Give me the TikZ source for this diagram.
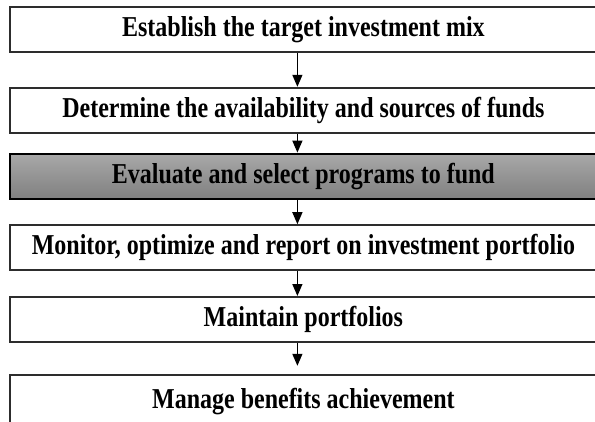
\documentclass[tikz,border=0pt]{standalone}
\usepackage{fontspec}
\setmainfont{Liberation Serif}
\usetikzlibrary{arrows.meta, positioning}
\definecolor{edgegray}{RGB}{45,45,45}
\definecolor{shadetop}{RGB}{168,168,168}
\definecolor{shadebot}{RGB}{128,128,128}
% taller step labels
\newcommand{\steptext}[1]{\scalebox{1}[1.2]{#1}}

\begin{document}
\begin{tikzpicture}[
    x=1pt, y=-1pt,
    box/.style={rectangle, draw=edgegray, line width=1.8pt, fill=white, minimum width=587pt, minimum height=45pt, inner sep=0pt, font=\fontsize{24}{28}\selectfont\bfseries},
    arrow/.style={-{Triangle[width=10pt,length=12pt]}, line width=1.3pt}
]
\fill[white] (0,0) rectangle (595,421);
\clip (0,0) rectangle (595,421);

\node[box, anchor=north west] (est) at (9,6) {\steptext{Establish the target investment mix}};
\node[box, below=34pt of est] (det) {\steptext{Determine the availability and sources of funds}};
\node[box, below=19pt of det, draw=black, line width=2.6pt, top color=shadetop, bottom color=shadebot] (eval) {\steptext{Evaluate and select programs to fund}};
\node[box, below=24pt of eval] (mon) {\steptext{Monitor, optimize and report on investment portfolio}};
\node[box, below=25pt of mon] (maint) {\steptext{Maintain portfolios}};
\node[box, below=31pt of maint, minimum height=53pt] (benef) {\steptext{Manage benefits achievement}};

\draw[arrow] ([xshift=-6pt]est.south) -- ([xshift=-6pt]det.north);
\draw[arrow] ([xshift=-6pt]det.south) -- ([xshift=-6pt]eval.north);
\draw[arrow] ([xshift=-6pt]eval.south) -- ([xshift=-6pt]mon.north);
\draw[arrow] ([xshift=-6pt]mon.south) -- ([xshift=-6pt]maint.north);
\draw[arrow, shorten >=8pt] ([xshift=-6pt]maint.south) -- ([xshift=-6pt]benef.north);
\end{tikzpicture}
\end{document}
